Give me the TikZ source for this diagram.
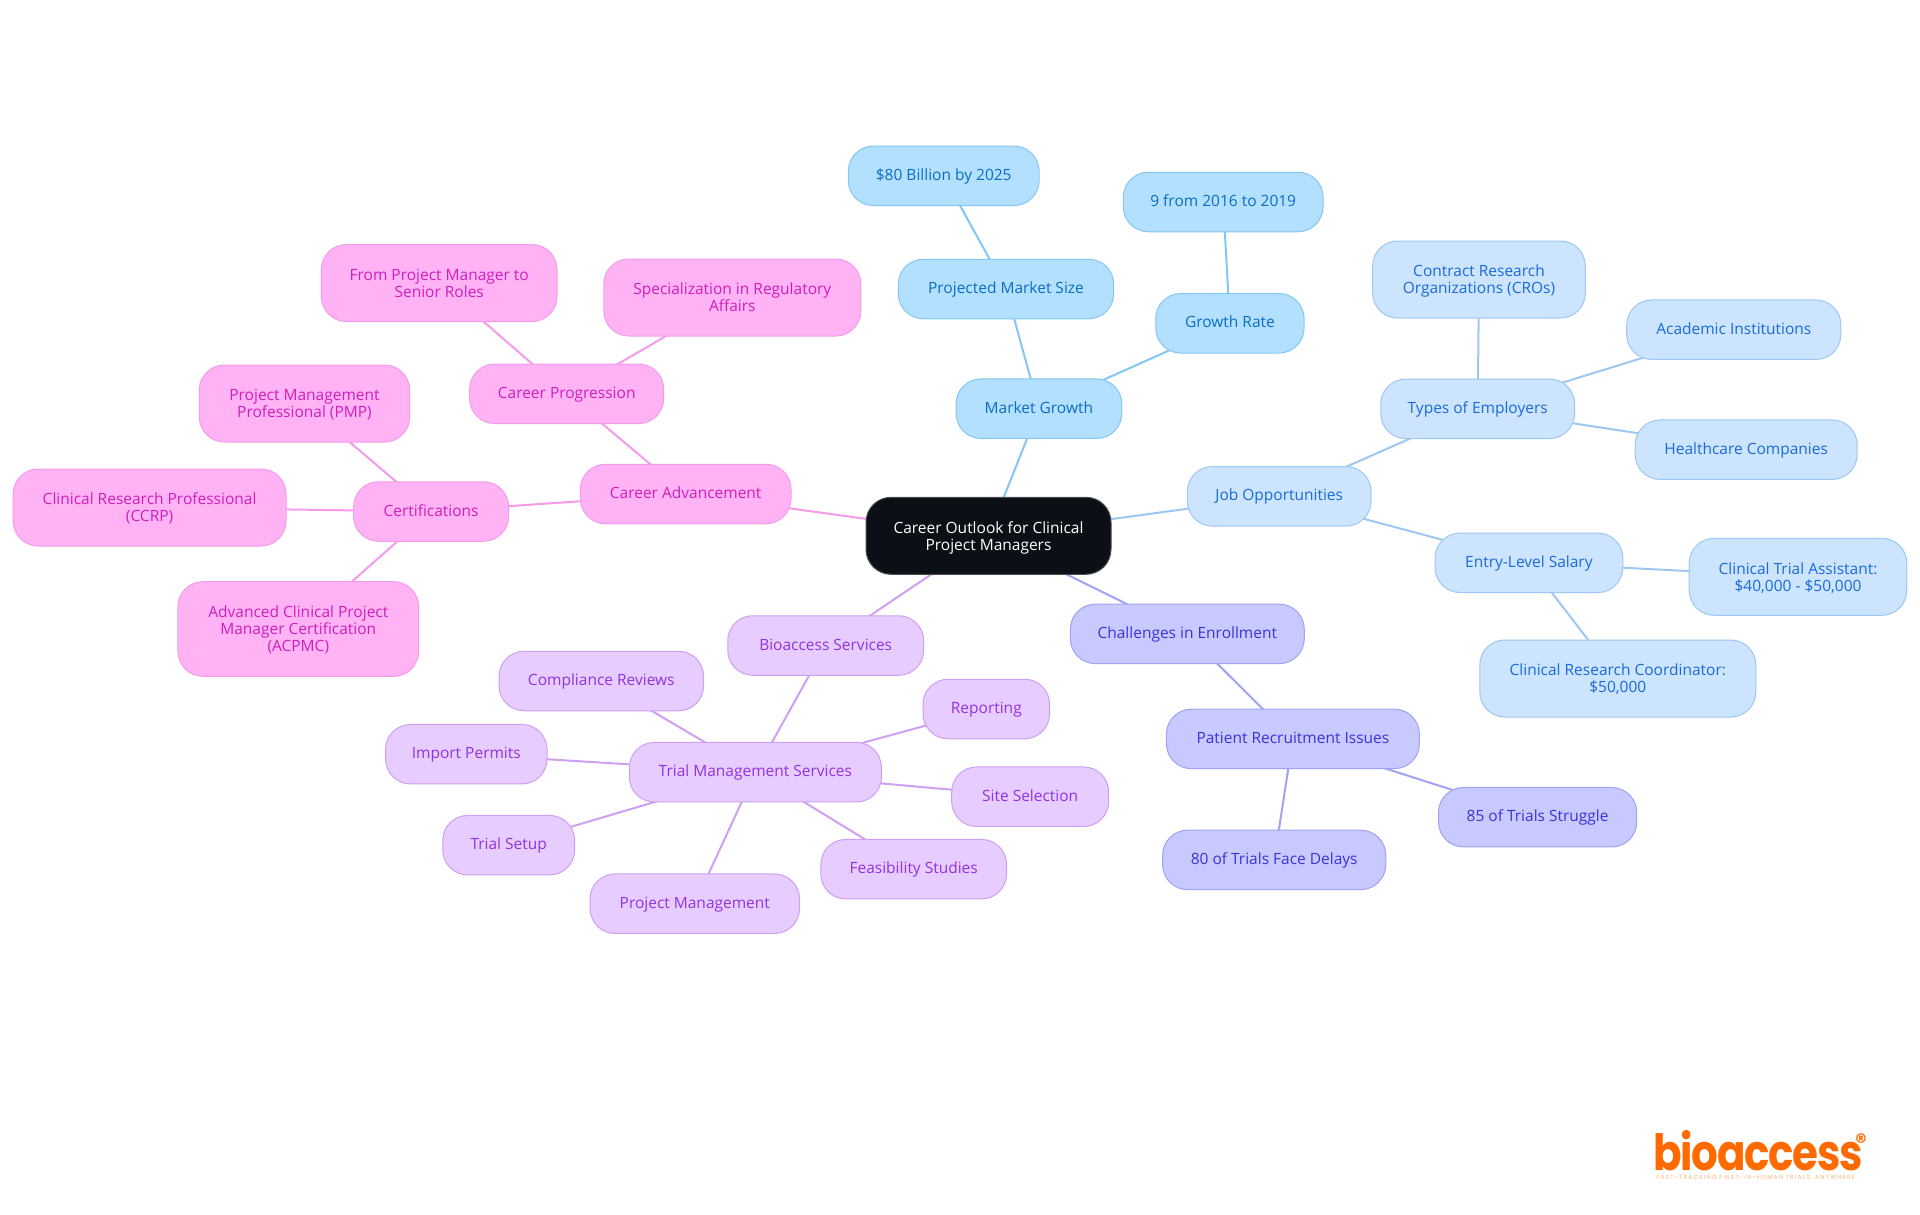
\documentclass[tikz,border=0pt]{standalone}
\usepackage{fontspec}
\usetikzlibrary{backgrounds}
\setmainfont{Open Sans}
\newfontfamily\logofont{Poppins}
\newcommand{\topup}{\rule{0pt}{16.5pt}}
\definecolor{blA}{HTML}{B3E0FF}\definecolor{blAs}{HTML}{84C7F5}\definecolor{blAt}{HTML}{0A6EC4}
\definecolor{blB}{HTML}{CCE4FD}\definecolor{blBs}{HTML}{9DC8F3}\definecolor{blBt}{HTML}{1A6BDB}
\definecolor{pkA}{HTML}{FFB3F5}\definecolor{pkAs}{HTML}{F59BEA}\definecolor{pkAt}{HTML}{CF1FBC}
\definecolor{puA}{HTML}{E6CCFF}\definecolor{puAs}{HTML}{CFA0F2}\definecolor{puAt}{HTML}{9333E0}
\definecolor{inA}{HTML}{C7C9FF}\definecolor{inAs}{HTML}{9FA3F2}\definecolor{inAt}{HTML}{3B34D9}
\definecolor{rootfill}{HTML}{0B1017}\definecolor{logoor}{HTML}{FF6A00}\definecolor{logolt}{HTML}{FFB27F}
\tikzset{
 x=1pt,y=-1pt,
 pill/.style={rounded corners=25pt,inner sep=0pt,align=center,line width=1pt,minimum height=59.5pt,
   font=\fontsize{15.5}{17}\selectfont,execute at begin node=\rule{0pt}{14pt},execute at end node=\rule[-5pt]{0pt}{1pt}},
 two/.style={minimum height=77pt},
 three/.style={minimum height=94.6pt},
 mblue/.style={pill,fill=blA,draw=blAs,text=blAt},
 jblue/.style={pill,fill=blB,draw=blBs,text=blBt},
 pink/.style={pill,fill=pkA,draw=pkAs,text=pkAt},
 purp/.style={pill,fill=puA,draw=puAs,text=puAt},
 indi/.style={pill,fill=inA,draw=inAs,text=inAt},
 rootbox/.style={pill,two,fill=rootfill,draw=rootfill!75!white,text=white},
 lm/.style={draw=blAs,line width=2pt},
 lj/.style={draw=blBs,line width=2pt},
 lp/.style={draw=pkAs,line width=2pt},
 lu/.style={draw=puAs,line width=2pt},
 li/.style={draw=inAs,line width=2pt},
}
\begin{document}
\begin{tikzpicture}
\useasboundingbox (0,0) rectangle (1920,1215);
\node[rootbox,minimum width=245pt] (root) at (988.5,535.8) {\topup Career Outlook for Clinical\\Project Managers};
% market
\node[mblue,minimum width=165.7pt] (mg) at (1038.9,408.7) {Market Growth};
\node[mblue,minimum width=215.4pt] (pms) at (1006,289) {Projected Market Size};
\node[mblue,minimum width=190.7pt] (b80) at (943.7,175.8) {\$80 Billion by 2025};
\node[mblue,minimum width=148.3pt] (gr) at (1229.9,323.3) {Growth Rate};
\node[mblue,minimum width=199.7pt] (n9) at (1223.2,202) {9 from 2016 to 2019};
% jobs
\node[jblue,minimum width=183.7pt] (job) at (1279.2,496.3) {Job Opportunities};
\node[jblue,minimum width=193.9pt] (toe) at (1477.7,408.8) {Types of Employers};
\node[jblue,two,minimum width=212.7pt] (cro) at (1479,279.5) {\topup Contract Research\\Organizations (CROs)};
\node[jblue,minimum width=214.2pt] (ai) at (1733.8,329.7) {Academic Institutions};
\node[jblue,minimum width=222pt] (hc) at (1746.2,449.7) {Healthcare Companies};
\node[jblue,minimum width=187.7pt] (els) at (1528.9,562.8) {Entry-Level Salary};
\node[jblue,two,minimum width=217.6pt] (cta) at (1798,576.8) {\topup Clinical Trial Assistant:\\\$40,000 - \$50,000};
\node[jblue,two,minimum width=276pt] (crc) at (1617.8,678.5) {\topup Clinical Research Coordinator:\\\$50,000};
% career
\node[pink,minimum width=210.6pt] (ca) at (685.7,494) {Career Advancement};
\node[pink,minimum width=194pt] (cp) at (566.7,393.8) {Career Progression};
\node[pink,two,minimum width=235.6pt] (fpm) at (439.2,283) {\topup From Project Manager to\\Senior Roles};
\node[pink,two,minimum width=257pt] (spec) at (732.3,297.5) {\topup Specialization in Regulatory\\Affairs};
\node[pink,minimum width=155pt] (cert) at (431.1,511.5) {Certifications};
\node[pink,two,minimum width=210.3pt] (pmp) at (304.5,403.5) {\topup Project Management\\Professional (PMP)};
\node[pink,two,minimum width=272.8pt] (ccrp) at (149.6,507.5) {\topup Clinical Research Professional\\(CCRP)};
\node[pink,three,minimum width=240.7pt] (acpmc) at (298.3,629) {\topup Advanced Clinical Project\\Manager Certification\\(ACPMC)};
% services
\node[purp,minimum width=195.9pt] (bio) at (825.7,645.5) {Bioaccess Services};
\node[purp,minimum width=252.1pt] (tms) at (755.4,772.2) {Trial Management Services};
\node[purp,minimum width=204.5pt] (comp) at (601.3,681) {Compliance Reviews};
\node[purp,minimum width=126.6pt] (rep) at (986.3,709) {Reporting};
\node[purp,minimum width=161.5pt] (imp) at (466.3,754.2) {Import Permits};
\node[purp,minimum width=157pt] (site) at (1030.2,796.7) {Site Selection};
\node[purp,minimum width=131.9pt] (ts) at (508.7,845.2) {Trial Setup};
\node[purp,minimum width=185.7pt] (feas) at (913.7,869.2) {Feasibility Studies};
\node[purp,minimum width=209.5pt] (pm) at (694.8,903.7) {Project Management};
% enrollment
\node[indi,minimum width=233.9pt] (chal) at (1187.3,633.9) {Challenges in Enrollment};
\node[indi,minimum width=253pt] (pri) at (1292.9,738.9) {Patient Recruitment Issues};
\node[indi,minimum width=198.2pt] (t85) at (1537.6,817.2) {85 of Trials Struggle};
\node[indi,minimum width=223.1pt] (t80) at (1274.2,859.9) {80 of Trials Face Delays};
% connectors behind the nodes, centre to centre
\begin{pgfonlayer}{background}
\fill[white] (0,0) rectangle (1920,1215);
\draw[lm] (root.center)--(mg.center); \draw[lm] (mg.center)--(pms.center); \draw[lm] (pms.center)--(b80.center); \draw[lm] (mg.center)--(gr.center); \draw[lm] (gr.center)--(n9.center);
\draw[lj] (root.center)--(job.center); \draw[lj] (job.center)--(toe.center); \draw[lj] (toe.center)--(cro.center); \draw[lj] (toe.center)--(ai.center); \draw[lj] (toe.center)--(hc.center);
\draw[lj] (job.center)--(els.center); \draw[lj] (els.center)--(cta.center); \draw[lj] (els.center)--(crc.center);
\draw[lp] (root.center)--(ca.center); \draw[lp] (ca.center)--(cp.center); \draw[lp] (cp.center)--(fpm.center); \draw[lp] (cp.center)--(spec.center); \draw[lp] (ca.center)--(cert.center);
\draw[lp] (cert.center)--(pmp.center); \draw[lp] (cert.center)--(ccrp.center); \draw[lp] (cert.center)--(acpmc.center);
\draw[lu] (root.center)--(bio.center); \draw[lu] (bio.center)--(tms.center); \draw[lu] (tms.center)--(comp.center); \draw[lu] (tms.center)--(rep.center); \draw[lu] (tms.center)--(imp.center);
\draw[lu] (tms.center)--(site.center); \draw[lu] (tms.center)--(ts.center); \draw[lu] (tms.center)--(feas.center); \draw[lu] (tms.center)--(pm.center);
\draw[li] (root.center)--(chal.center); \draw[li] (chal.center)--(pri.center); \draw[li] (pri.center)--(t85.center); \draw[li] (pri.center)--(t80.center);
\end{pgfonlayer}
% logo
\node[anchor=base west,inner sep=0pt,text=logoor,font=\logofont\bfseries\fontsize{50}{50}\selectfont] (logo) at (1653,1170) {\scalebox{0.84}[1]{\addfontfeature{LetterSpace=-3}bioaccess}};
\node[anchor=center,inner sep=0pt,text=logoor,font=\logofont\bfseries\fontsize{22}{22}\selectfont] (reg) at (1861,1142) {®};
\node[anchor=center,inner sep=0pt,text=logolt,font=\logofont\fontsize{6}{6}\selectfont] (tag) at (1755.5,1178) {\addfontfeature{LetterSpace=19}FAST-TRACKING FIRST-IN-HUMAN TRIALS, ANYWHERE};
\end{tikzpicture}
\end{document}
